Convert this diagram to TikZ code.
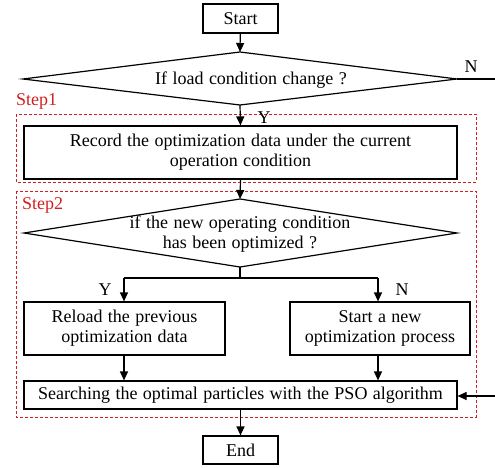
\documentclass[tikz,border=0pt]{standalone}
\usepackage{fontspec}
\setmainfont[WordSpace=1.2]{Liberation Serif}
\usetikzlibrary{arrows.meta}
\definecolor{stepred}{RGB}{210,30,30}
\begin{document}
\begin{tikzpicture}[x=1pt,y=-1pt,
  every node/.style={font=\fontsize{18}{21}\selectfont},
  box/.style={draw, line width=1.2pt, align=center, inner sep=0pt},
  line/.style={line width=1.2pt},
  arr/.style={line width=1.2pt,-{Triangle[length=9pt,width=8pt]}},
  stepframe/.style={draw=stepred, dashed, line width=0.8pt, dash pattern=on 3pt off 2pt},
  steplabel/.style={text=stepred, anchor=west, inner sep=0pt},
  yn/.style={inner sep=0pt}]
\useasboundingbox (0,0) rectangle (495,468);
% frames
\draw[stepframe] (16,114) rectangle (476,182);
\draw[stepframe] (16,191) rectangle (476,417);
\node[steplabel] (s1) at (16,101) {Step1};
\node[steplabel] (s2) at (22,205) {Step2};
% nodes
\node[box, minimum width=75pt, minimum height=29pt] (start) at (240.5,18.5) {Start};
\coordinate (d1l) at (23,79); \coordinate (d1t) at (240,52);
\coordinate (d1r) at (457,79); \coordinate (d1b) at (240,105);
\draw[line, line join=miter] (d1l) -- (d1t) -- (d1r) -- (d1b) -- cycle;
\node (d1) at (251,80) {If load condition change ?};
\node[box, minimum width=433pt, minimum height=53pt] (rec) at (240.5,152.5) {Record the optimization data under the current\\[-1pt]operation condition};
\coordinate (d2l) at (24,233); \coordinate (d2t) at (240,199);
\coordinate (d2r) at (457,233); \coordinate (d2b) at (240,267);
\draw[line, line join=miter] (d2l) -- (d2t) -- (d2r) -- (d2b) -- cycle;
\node[align=center] (d2) at (240,234) {if the new operating condition\\[-1pt]has been optimized ?};
\node[box, minimum width=201pt, minimum height=53pt] (rl) at (124.5,328.5) {Reload the previous\\[-1pt]optimization data};
\node[box, minimum width=180pt, minimum height=53pt] (nw) at (380,328.5) {Start a new\\[-1pt]optimization process};
\node[box, minimum width=433pt, minimum height=28pt] (ps) at (240.5,395) {Searching the optimal particles with the PSO algorithm};
\node[box, minimum width=75pt, minimum height=28pt] (end) at (240.5,450) {End};
% connectors
\draw[arr] (start) -- (d1t);
\coordinate (nout) at (495,79);
\draw[line] (d1r) -- (nout);
\node[yn] (nlab) at (471,67) {N};
\draw[arr] (d1b) -- (rec.north);
\node[yn] (ylab) at (264,118) {Y};
\draw[arr] (rec.south) -- (d2t);
\coordinate (br) at (240,278);
\coordinate (brl) at (124,278);
\coordinate (brr) at (378,278);
\draw[line] (d2b) -- (br);
\draw[line] (brl) -- (brr);
\draw[arr] (brl) -- (brl |- rl.north);
\draw[arr] (brr) -- (brr |- nw.north);
\node[yn] (ylab2) at (105,290) {Y};
\node[yn] (nlab2) at (402,290) {N};
\draw[arr] (rl.south -| brl) -- (brl |- ps.north);
\draw[arr] (nw.south -| brr) -- (brr |- ps.north);
\coordinate (nin) at (495,396);
\draw[arr] (nin) -- (ps.east |- nin);
\draw[arr] (ps.south) -- (end.north);
\end{tikzpicture}
\end{document}
